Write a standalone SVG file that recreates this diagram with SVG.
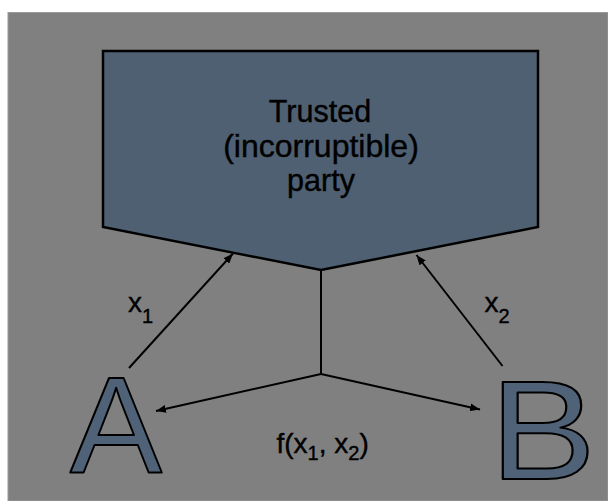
<svg xmlns="http://www.w3.org/2000/svg" width="608" height="501" viewBox="0 0 608 501">
<defs>
<style>
.t{font-family:"Liberation Sans",Arial,sans-serif;fill:#000;stroke:#000;stroke-width:0.4}
.big{font-family:"Liberation Sans",Arial,sans-serif;fill:#4f6277;stroke:#000;stroke-width:2;stroke-linejoin:round}
.ln{stroke:#000;stroke-width:2;fill:none}
</style>
<marker id="ah" viewBox="0 0 10 8" refX="10" refY="4" markerWidth="10" markerHeight="8" markerUnits="userSpaceOnUse" orient="auto">
<path d="M0,0 L10,4 L0,8 Z" fill="#000"/>
</marker>
</defs>
<rect x="0" y="0" width="608" height="501" fill="#fff"/>
<rect x="8" y="12.5" width="600" height="488.5" fill="#808080" stroke="#9a9a9a" stroke-width="1"/>
<g id="party">
<path d="M103,51 L538,51 L538,227 L321,270 L103,227 Z" fill="#4f6072" stroke="#000" stroke-width="2.5" stroke-linejoin="miter"/>
<text class="t" font-size="30.5" text-anchor="middle" x="320" y="121.5">Trusted</text>
<text class="t" font-size="32" text-anchor="middle" x="321" y="157">(incorruptible)</text>
<text class="t" font-size="30.5" text-anchor="middle" x="321" y="191">party</text>
</g>
<g id="A">
<text class="big" font-size="138" x="70" y="473">A</text>
</g>
<g id="B">
<text class="big" font-size="141" x="-10" y="0" transform="translate(501,479) scale(1.13,1)">B</text>
</g>
<g id="connectors">
<line class="ln" x1="129" y1="368" x2="233" y2="253.5" marker-end="url(#ah)"/>
<line class="ln" x1="502.5" y1="366" x2="416.5" y2="255" marker-end="url(#ah)"/>
<line class="ln" x1="321" y1="270" x2="321" y2="374"/>
<line class="ln" x1="321" y1="374" x2="156" y2="411" marker-end="url(#ah)"/>
<line class="ln" x1="321" y1="374" x2="480" y2="409.5" marker-end="url(#ah)"/>
<text class="t" font-size="28" x="128" y="311.5">x<tspan font-size="20" dy="11">1</tspan></text>
<text class="t" font-size="28" x="484.5" y="311.5">x<tspan font-size="20" dy="11">2</tspan></text>
<text class="t" font-size="28" x="276.5" y="453">f(x<tspan font-size="20" dy="7">1</tspan><tspan dy="-7">, x</tspan><tspan font-size="20" dy="7">2</tspan><tspan dy="-7">)</tspan></text>
</g>
</svg>
